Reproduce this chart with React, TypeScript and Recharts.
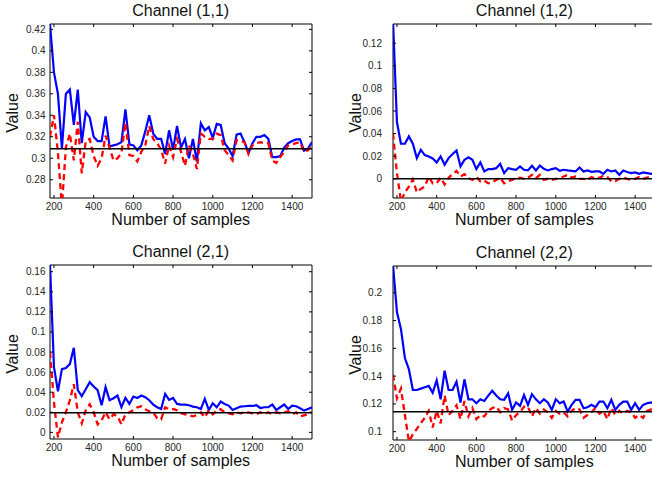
import React from 'react';
import { LineChart, Line, XAxis, YAxis, ReferenceLine, ReferenceArea } from 'recharts';

const samples = [
  180, 200, 220, 240, 260, 280, 300, 320, 340, 360, 380, 400, 420, 440,
  460, 480, 500, 520, 540, 560, 580, 600, 620, 640, 660, 680, 700, 720, 740,
  760, 780, 800, 820, 840, 860, 880, 900, 920, 940,
  960, 980, 1000, 1020, 1040, 1060, 1080, 1100, 1120, 1140,
  1160, 1180, 1200, 1220, 1240, 1260, 1280, 1300, 1320, 1340,
  1360, 1380, 1400, 1420, 1440, 1460, 1480, 1500,
];

const ch11Blue = [
  0.425, 0.38, 0.36, 0.309, 0.36, 0.364, 0.331, 0.364, 0.314, 0.343, 0.338, 0.32, 0.316, 0.316,
  0.339, 0.311, 0.312, 0.313, 0.315, 0.3456, 0.313, 0.312, 0.3075, 0.312, 0.325, 0.34, 0.323, 0.318, 0.318,
  0.304, 0.326, 0.308, 0.33, 0.31, 0.318, 0.3, 0.318, 0.297, 0.3325,
  0.326, 0.329, 0.319, 0.332, 0.331, 0.314, 0.309, 0.302, 0.322, 0.323,
  0.315, 0.305, 0.314, 0.32, 0.32, 0.3216, 0.318, 0.301, 0.301, 0.302,
  0.31, 0.314, 0.316, 0.3175, 0.3175, 0.307, 0.309, 0.315,
];
const ch11Red = [
  0.32, 0.34, 0.305, 0.255, 0.31, 0.323, 0.298, 0.334, 0.286, 0.316, 0.318, 0.302, 0.293, 0.3,
  0.321, 0.31, 0.298, 0.3, 0.305, 0.333, 0.303, 0.302, 0.297, 0.306, 0.312, 0.33, 0.318, 0.314, 0.308,
  0.295, 0.312, 0.301, 0.318, 0.306, 0.293, 0.312, 0.304, 0.29, 0.323,
  0.32, 0.318, 0.318, 0.323, 0.3216, 0.3075, 0.303, 0.298, 0.317, 0.316,
  0.315, 0.304, 0.312, 0.314, 0.315, 0.314, 0.314, 0.298, 0.2956, 0.301,
  0.306, 0.312, 0.313, 0.314, 0.315, 0.306, 0.3075, 0.312,
];

const ch12Blue = [
  0.14, 0.05, 0.031, 0.031, 0.0375, 0.031, 0.0183, 0.0257, 0.021, 0.0198, 0.018, 0.0145, 0.0198, 0.0124,
  0.0183, 0.022, 0.025, 0.011, 0.0168, 0.019, 0.0168, 0.0086, 0.0145, 0.0065, 0.0086, 0.0086, 0.0094, 0.0133, 0.005,
  0.0094, 0.0086, 0.008, 0.011, 0.008, 0.0074, 0.0115, 0.0074, 0.0118, 0.0088,
  0.0074, 0.0086, 0.0094, 0.0071, 0.008, 0.0074, 0.007, 0.0065, 0.01, 0.0065,
  0.0074, 0.0062, 0.0065, 0.0065, 0.0044, 0.008, 0.0065, 0.0074, 0.0035, 0.0074,
  0.006, 0.005, 0.0056, 0.0044, 0.0056, 0.005, 0.0044, 0.005,
];
const ch12Red = [
  0.04, 0.005, -0.02, -0.012, -0.007, -0.0005, -0.012, -0.009, -0.007, 0.002, -0.004, -0.004, 0.001, -0.005,
  0.001, 0.004, 0.007, 0.002, 0.004, 0.0006, -0.001, 0.002, -0.0024, -0.0015, -0.004, -0.003, -0.001, 0.001, -0.004,
  -0.002, -0.001, 0.0006, 0.001, 0.0, 0.001, 0.0035, 0.0005, 0.0035, -0.001,
  0.0, -0.001, 0.0, 0.0005, 0.002, 0.0035, 0.001, 0.002, 0.0, 0.0,
  -0.001, 0.0015, 0.0, 0.001, 0.0027, 0.0015, -0.0024, -0.002, 0.0, 0.001,
  0.0, -0.001, 0.0, 0.0015, 0.0, 0.001, 0.002, 0.001,
];

const ch21Blue = [
  0.167, 0.065, 0.041, 0.063, 0.064, 0.068, 0.0843, 0.042, 0.036, 0.043, 0.05, 0.0457, 0.042, 0.027,
  0.045, 0.032, 0.034, 0.0367, 0.025, 0.0343, 0.0283, 0.0357, 0.0343, 0.0367, 0.035, 0.032, 0.0277, 0.025, 0.0233,
  0.0383, 0.0323, 0.0343, 0.0283, 0.0277, 0.0277, 0.027, 0.0257, 0.025, 0.0233,
  0.0333, 0.0223, 0.029, 0.025, 0.0307, 0.0283, 0.0267, 0.0223, 0.024, 0.0257,
  0.026, 0.0263, 0.0263, 0.027, 0.0243, 0.025, 0.025, 0.0277, 0.0223, 0.025,
  0.0277, 0.0233, 0.0267, 0.026, 0.024, 0.0217, 0.0233, 0.025,
];
const ch21Red = [
  0.08, 0.03, -0.005, 0.01, 0.02, 0.032, 0.048, 0.02, 0.009, 0.022, 0.028, 0.02, 0.008, 0.012,
  0.02, 0.013, 0.018, 0.016, 0.008, 0.018, 0.02, 0.022, 0.025, 0.026, 0.023, 0.021, 0.02, 0.014, 0.013,
  0.025, 0.023, 0.0233, 0.022, 0.019, 0.018, 0.017, 0.016, 0.017, 0.02,
  0.015, 0.022, 0.018, 0.022, 0.023, 0.02, 0.019, 0.018, 0.02, 0.019,
  0.02, 0.02, 0.019, 0.018, 0.02, 0.018, 0.02, 0.018, 0.02, 0.019,
  0.02, 0.021, 0.018, 0.02, 0.016, 0.017, 0.018, 0.02,
];

const ch22Blue = [
  0.22, 0.186, 0.174, 0.153, 0.145, 0.13, 0.13, 0.131, 0.132, 0.133, 0.128, 0.137, 0.1233, 0.1439,
  0.13, 0.13, 0.136, 0.121, 0.1377, 0.1233, 0.1233, 0.1205, 0.1233, 0.1221, 0.126, 0.1295, 0.126, 0.1233, 0.1229,
  0.1276, 0.1157, 0.121, 0.1186, 0.1264, 0.1193, 0.127, 0.1233, 0.1205, 0.1233,
  0.121, 0.1157, 0.1233, 0.1205, 0.1217, 0.1145, 0.1193, 0.1229, 0.1229, 0.1169,
  0.1176, 0.1193, 0.1176, 0.1217, 0.1217, 0.1169, 0.1229, 0.1157, 0.1193, 0.1217,
  0.1217, 0.1157, 0.1205, 0.1157, 0.1193, 0.1205, 0.121, 0.12,
];
const ch22Red = [
  0.141, 0.124, 0.131, 0.112, 0.093, 0.098, 0.102, 0.106, 0.11, 0.115, 0.103, 0.115, 0.106, 0.126,
  0.112, 0.115, 0.119, 0.109, 0.122, 0.111, 0.117, 0.109, 0.112, 0.111, 0.115, 0.117, 0.118, 0.114, 0.117,
  0.116, 0.108, 0.112, 0.114, 0.118, 0.118, 0.111, 0.117, 0.113, 0.116,
  0.114, 0.11, 0.115, 0.113, 0.114, 0.111, 0.115, 0.117, 0.116, 0.11,
  0.112, 0.114, 0.117, 0.113, 0.115, 0.109, 0.117, 0.112, 0.115, 0.113,
  0.115, 0.114, 0.11, 0.112, 0.11, 0.115, 0.116, 0.116,
];

const xTicks = [200, 400, 600, 800, 1000, 1200, 1400];
const ch11YTicks = [0.28, 0.3, 0.32, 0.34, 0.36, 0.38, 0.4, 0.42];
const ch12YTicks = [0, 0.02, 0.04, 0.06, 0.08, 0.1, 0.12];
const ch21YTicks = [0, 0.02, 0.04, 0.06, 0.08, 0.1, 0.12, 0.14, 0.16];
const ch22YTicks = [0.1, 0.12, 0.14, 0.16, 0.18, 0.2];

const titles = ['Channel (1,1)', 'Channel (1,2)', 'Channel (2,1)', 'Channel (2,2)'];
const trueValues = [0.3088, 0.0, 0.0195, 0.1144];

const FONT = '"Liberation Sans", Arial, Helvetica, sans-serif';
const ML = 50;
const MT = 30;
const PW = 262;
const PH = 174;
const TICK_LEN = 3;

const fmt = (v: number) => String(Number(v.toFixed(2)));

type PanelProps = {
  left: number;
  top: number;
  title: string;
  blue: number[];
  red: number[];
  domain: [number, number];
  yTicks: number[];
  refY: number;
  yGap: number;
};

function Panel({ left, top, title, blue, red, domain, yTicks, refY, yGap }: PanelProps) {
  const data = samples.map((x, i) => ({ x, blue: blue[i], red: red[i] }));
  const XTick = (p: any) => {
    const x = p.x;
    return (
      <g>
        <line x1={x} x2={x} y1={MT + PH} y2={MT + PH - TICK_LEN} stroke="#000" strokeWidth={1} />
        <line x1={x} x2={x} y1={MT} y2={MT + TICK_LEN} stroke="#000" strokeWidth={1} />
        <text x={x} y={MT + PH + 8} dy="0.35em" textAnchor="middle" fontSize={10} fill="#262626" fontFamily={FONT}>
          {fmt(p.payload.value)}
        </text>
      </g>
    );
  };
  const YTick = (p: any) => {
    const y = p.y;
    return (
      <g>
        <line x1={ML} x2={ML + TICK_LEN} y1={y} y2={y} stroke="#000" strokeWidth={1} />
        <line x1={ML + PW} x2={ML + PW - TICK_LEN} y1={y} y2={y} stroke="#000" strokeWidth={1} />
        <text x={ML - yGap} y={y} dy="0.35em" textAnchor="end" fontSize={10} fill="#262626" fontFamily={FONT}>
          {fmt(p.payload.value)}
        </text>
      </g>
    );
  };
  return (
    <>
      <div style={{ position: 'absolute', left: left - ML, top: top - MT }}>
        <LineChart
          width={ML + PW + 10}
          height={MT + PH + 40}
          data={data}
          margin={{ top: MT, right: 10, bottom: 0, left: 0 }}
        >
          <XAxis
            dataKey="x"
            type="number"
            domain={[180, 1500]}
            ticks={xTicks}
            interval={0}
            allowDataOverflow
            axisLine={false}
            tickLine={false}
            tickSize={0}
            height={40}
            tick={XTick}
          />
          <YAxis
            type="number"
            domain={domain}
            ticks={yTicks}
            interval={0}
            allowDataOverflow
            axisLine={false}
            tickLine={false}
            tickSize={0}
            width={ML}
            tick={YTick}
          />
          <Line type="linear" dataKey="blue" stroke="#0000ff" strokeWidth={2.2} dot={false} isAnimationActive={false} />
          <Line
            type="linear"
            dataKey="red"
            stroke="#ff0000"
            strokeWidth={2.3}
            strokeDasharray="6 4"
            dot={false}
            isAnimationActive={false}
          />
          <ReferenceLine y={refY} stroke="#000" strokeWidth={1.5} />
          <ReferenceArea x1={180} x2={1500} y1={domain[0]} y2={domain[1]} fill="none" stroke="#000" strokeWidth={1} />
        </LineChart>
      </div>
      <div
        style={{
          position: 'absolute',
          left: left + PW / 2,
          top: top - 13,
          transform: 'translate(-50%, -50%)',
          fontSize: 16,
          lineHeight: 1,
          whiteSpace: 'nowrap',
          color: '#111',
        }}
      >
        {title}
      </div>
      <div
        style={{
          position: 'absolute',
          left: left + PW / 2,
          top: top + PH + 22,
          transform: 'translate(-50%, -50%)',
          fontSize: 16,
          lineHeight: 1,
          whiteSpace: 'nowrap',
          color: '#111',
        }}
      >
        Number of samples
      </div>
      <div
        style={{
          position: 'absolute',
          left: left - 37,
          top: top + PH / 2 + 2,
          transform: 'translate(-50%, -50%) rotate(-90deg)',
          fontSize: 16,
          lineHeight: 1,
          whiteSpace: 'nowrap',
          color: '#111',
        }}
      >
        Value
      </div>
    </>
  );
}

export default function App() {
  return (
    <div
      style={{
        position: 'absolute',
        left: 0,
        top: 0,
        width: 652,
        height: 478,
        overflow: 'hidden',
        background: '#fff',
        fontFamily: FONT,
      }}
    >
      <Panel left={49.7} top={24} title={titles[0]} blue={ch11Blue} red={ch11Red} domain={[0.263, 0.425]} yTicks={ch11YTicks} refY={trueValues[0]} yGap={4.5} />
      <Panel left={393.3} top={24} title={titles[1]} blue={ch12Blue} red={ch12Red} domain={[-0.017, 0.137]} yTicks={ch12YTicks} refY={trueValues[1]} yGap={11} />
      <Panel left={49.7} top={265} title={titles[2]} blue={ch21Blue} red={ch21Red} domain={[-0.0066, 0.1667]} yTicks={ch21YTicks} refY={trueValues[2]} yGap={4.5} />
      <Panel left={393.3} top={265.5} title={titles[3]} blue={ch22Blue} red={ch22Red} domain={[0.094, 0.2193]} yTicks={ch22YTicks} refY={trueValues[3]} yGap={11} />
    </div>
  );
}
